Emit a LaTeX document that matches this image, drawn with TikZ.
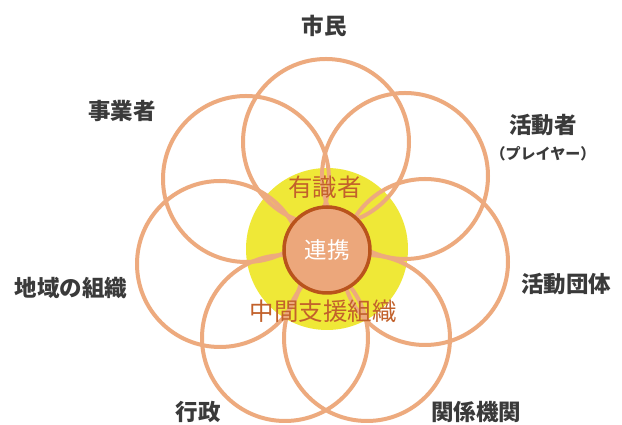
\documentclass[tikz,border=0pt]{standalone}
\usepackage{fontspec}
\setmainfont{Noto Sans CJK JP}
\definecolor{petalc}{HTML}{EDAA7E}
\definecolor{yelc}{HTML}{EFE837}
\definecolor{cfill}{HTML}{ECA77B}
\definecolor{cborder}{HTML}{B9531C}
\definecolor{innertxt}{HTML}{C2612B}
\definecolor{outertxt}{HTML}{3A3A3A}
\tikzset{
  petal/.style={circle, draw=petalc, line width=4pt, minimum size=166pt, inner sep=0pt},
  outerlabel/.style={font=\fontsize{22.5}{26}\selectfont\bfseries, text=outertxt, inner sep=0pt},
  smalllabel/.style={font=\fontsize{15}{17}\selectfont\bfseries, text=outertxt, inner sep=0pt},
  innerlabel/.style={font=\fontsize{24.5}{28}\selectfont, text=innertxt, inner sep=0pt},
}
\begin{document}
\begin{tikzpicture}[x=1pt,y=1pt]
\useasboundingbox (0,0) rectangle (622,425);
\fill[white] (0,0) rectangle (622,425);
\node[circle, fill=yelc, minimum size=162pt, inner sep=0pt] (yel) at (327,176) {};
\node[petal] (p1) at (326,283) {};
\node[petal] (p2) at (405,249) {};
\node[petal] (p3) at (425,163) {};
\node[petal] (p4) at (367,87) {};
\node[petal] (p5) at (285,87) {};
\node[petal] (p6) at (220,161) {};
\node[petal] (p7) at (246,246) {};
\node[circle, fill=cfill, draw=cborder, line width=3.5pt, minimum size=86pt, inner sep=0pt,
      font=\fontsize{22.5}{26}\selectfont, text=white] (ren) at (327,175) {連携};
\node[innerlabel] (yu) at (325,238) {有識者};
\node[innerlabel] (chu) at (323,114) {中間支援組織};
\node[outerlabel] (shimin) at (324,399) {市民};
\node[outerlabel] (jigyo) at (122,314) {事業者};
\node[outerlabel] (katsu) at (543,300) {活動者};
\node[smalllabel] (player) at (543,271) {（プレイヤー）};
\node[outerlabel] (dantai) at (566,141) {活動団体};
\node[outerlabel] (chiiki) at (71,137) {地域の組織};
\node[outerlabel] (gyosei) at (198,13) {行政};
\node[outerlabel] (kankei) at (476,13) {関係機関};
\end{tikzpicture}
\end{document}
